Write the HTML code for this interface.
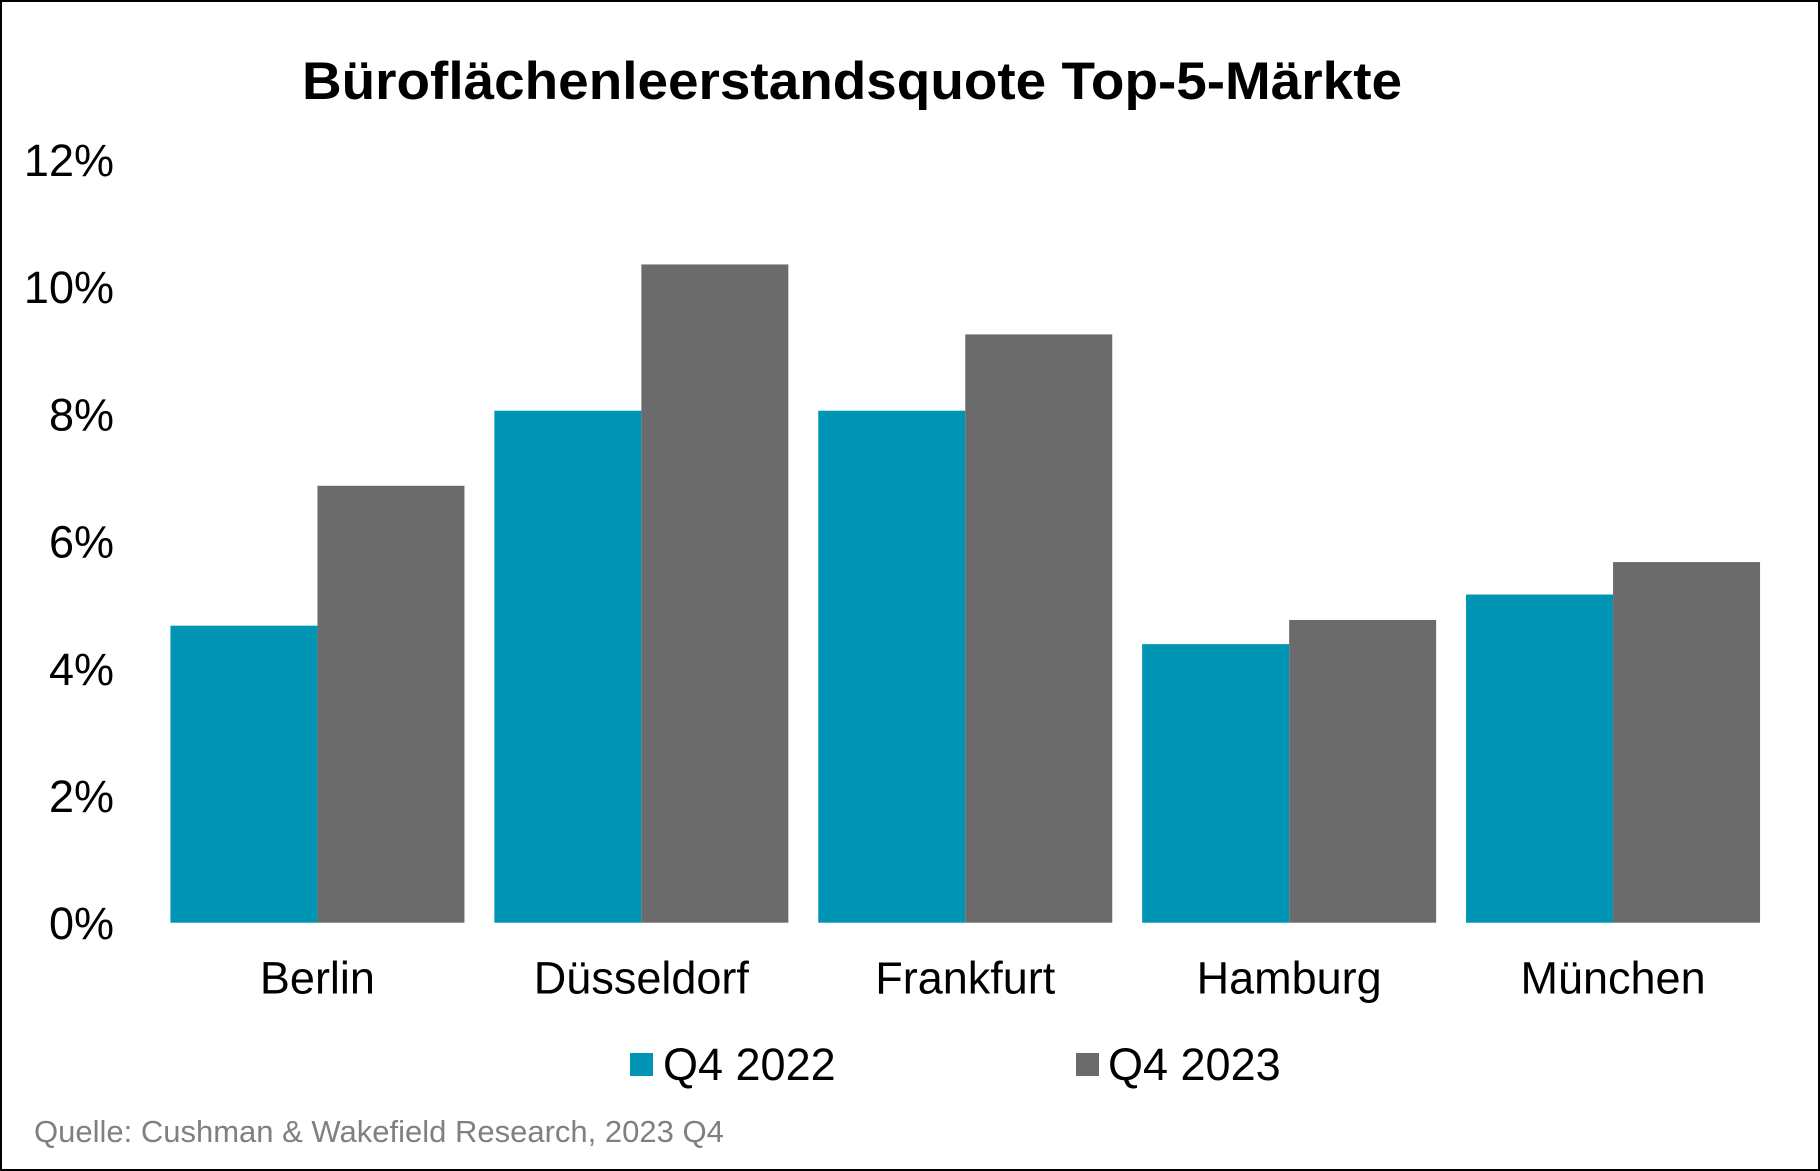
<!DOCTYPE html>
<html><head><meta charset="utf-8"><style>
html,body{margin:0;padding:0;background:#fff}
svg{display:block;font-family:"Liberation Sans",Arial,sans-serif}
</style></head><body>
<svg id="chart" width="1820" height="1171" viewBox="0 0 1820 1171">
<rect x="1" y="1" width="1818" height="1169" fill="#fff" stroke="#000" stroke-width="2"/>
<text x="852" y="99" text-anchor="middle" font-size="53" font-weight="bold" textLength="1100" lengthAdjust="spacingAndGlyphs">Büroflächenleerstandsquote Top-5-Märkte</text>
<g id="yaxis"></g>
<g id="bars"></g>
<g id="xaxis"></g>
<g>
<rect x="630" y="1053" width="23" height="23" fill="#0095B4"/>
<text x="663" y="1080" font-size="45">Q4 2022</text>
<rect x="1076" y="1053" width="23" height="23" fill="#6A6B6A"/>
<text x="1108" y="1080" font-size="45">Q4 2023</text>
</g>
<text x="34" y="1142" font-size="31" fill="#808080">Quelle: Cushman &amp; Wakefield Research, 2023 Q4</text>
</svg>
<script>
const categories = ["Berlin","Düsseldorf","Frankfurt","Hamburg","München"];
const q4_2022 = [4.67, 8.05, 8.05, 4.38, 5.16];
const q4_2023 = [6.87, 10.35, 9.25, 4.76, 5.67];
const yTicks = [0, 2, 4, 6, 8, 10, 12];
const yTickLabels = ["0%","2%","4%","6%","8%","10%","12%"];

const NS = "http://www.w3.org/2000/svg";
const plotLeft = 155.5, plotRight = 1775, y0 = 922.7, yTop = 159.5, yMax = 12;
const step = (plotRight - plotLeft) / categories.length;
const barW = 147;
function yScale(v){ return y0 - (v / yMax) * (y0 - yTop); }
function xCenter(i){ return plotLeft + step * (i + 0.5); }
function mk(tag, attrs){ const e = document.createElementNS(NS, tag); for (const k in attrs) e.setAttribute(k, attrs[k]); return e; }

const yaxis = document.getElementById('yaxis');
yTicks.forEach((t, i) => {
  const el = mk('text', {x: 114, y: yScale(t) + 16.5, 'text-anchor': 'end', 'font-size': 45});
  
  
  el.textContent = yTickLabels[i];
  yaxis.appendChild(el);
});

const bars = document.getElementById('bars');
const xaxis = document.getElementById('xaxis');
categories.forEach((c, i) => {
  const cx = xCenter(i);
  const b1 = mk('rect', {x: cx - barW, y: yScale(q4_2022[i]), width: barW, height: y0 - yScale(q4_2022[i]), fill: '#0095B4'});
  
  
  bars.appendChild(b1);
  const b2 = mk('rect', {x: cx, y: yScale(q4_2023[i]), width: barW, height: y0 - yScale(q4_2023[i]), fill: '#6A6B6A'});
  
  
  bars.appendChild(b2);
  const lbl = mk('text', {x: cx, y: 993.6, 'text-anchor': 'middle', 'font-size': 45});
  
  
  lbl.textContent = c;
  xaxis.appendChild(lbl);
});
</script>
</body></html>
